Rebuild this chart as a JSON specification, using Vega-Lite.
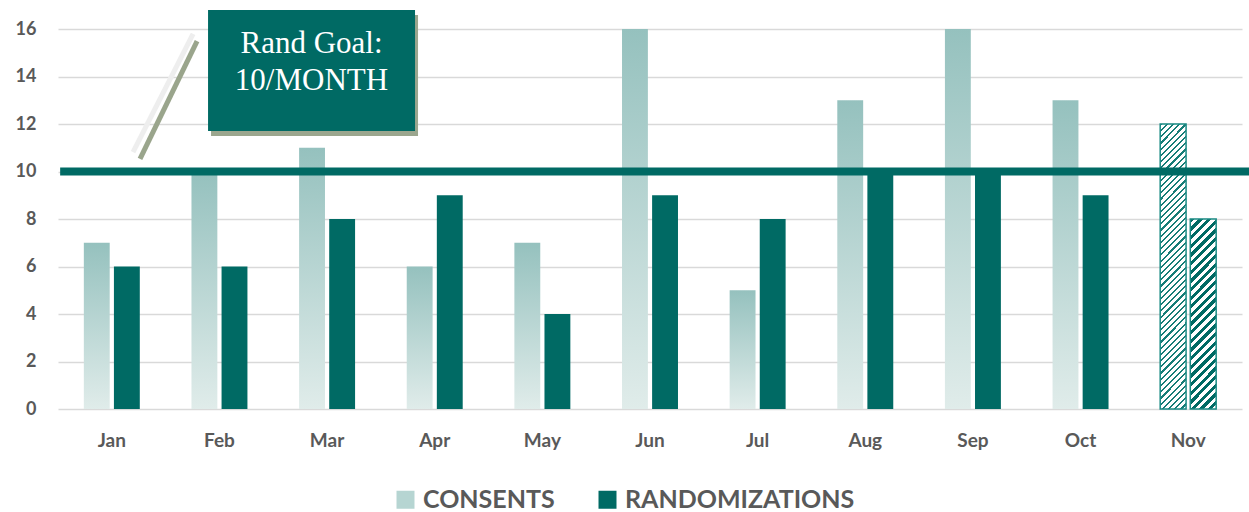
{
  "$schema": "https://vega.github.io/schema/vega-lite/v6.json",
  "width": 1184,
  "height": 380,
  "autosize": "none",
  "padding": {"left": 58, "top": 29, "right": 7, "bottom": 103},
  "background": "white",
  "config": {
    "view": {"stroke": null},
    "axis": {"domain": false, "ticks": false, "labelFont": "Lato", "labelFontWeight": "bold", "labelColor": "#595959"},
    "axisX": {"labelFontSize": 19, "labelPadding": 22, "grid": false, "labelAngle": 0},
    "axisY": {"labelFontSize": 18, "labelPadding": 22, "grid": true, "gridColor": "#d9d9d9", "gridWidth": 1.5, "tickCount": 9}
  },
  "datasets": {
    "counts": [
      {"month": "Jan", "series": "CONSENTS", "value": 7},
      {"month": "Feb", "series": "CONSENTS", "value": 10},
      {"month": "Mar", "series": "CONSENTS", "value": 11},
      {"month": "Apr", "series": "CONSENTS", "value": 6},
      {"month": "May", "series": "CONSENTS", "value": 7},
      {"month": "Jun", "series": "CONSENTS", "value": 16},
      {"month": "Jul", "series": "CONSENTS", "value": 5},
      {"month": "Aug", "series": "CONSENTS", "value": 13},
      {"month": "Sep", "series": "CONSENTS", "value": 16},
      {"month": "Oct", "series": "CONSENTS", "value": 13},
      {"month": "Nov", "series": "CONSENTS", "value": 12},
      {"month": "Jan", "series": "RANDOMIZATIONS", "value": 6},
      {"month": "Feb", "series": "RANDOMIZATIONS", "value": 6},
      {"month": "Mar", "series": "RANDOMIZATIONS", "value": 8},
      {"month": "Apr", "series": "RANDOMIZATIONS", "value": 9},
      {"month": "May", "series": "RANDOMIZATIONS", "value": 4},
      {"month": "Jun", "series": "RANDOMIZATIONS", "value": 9},
      {"month": "Jul", "series": "RANDOMIZATIONS", "value": 8},
      {"month": "Aug", "series": "RANDOMIZATIONS", "value": 10},
      {"month": "Sep", "series": "RANDOMIZATIONS", "value": 10},
      {"month": "Oct", "series": "RANDOMIZATIONS", "value": 9},
      {"month": "Nov", "series": "RANDOMIZATIONS", "value": 8}
    ]
  },
  "layer": [
    {
      "data": {"name": "counts"},
      "encoding": {
        "x": {"field": "month", "type": "nominal", "sort": ["Jan","Feb","Mar","Apr","May","Jun","Jul","Aug","Sep","Oct","Nov"], "scale": {"paddingInner": 0.48, "paddingOuter": 0.24}, "title": null},
        "xOffset": {"field": "series", "type": "nominal", "sort": ["CONSENTS", "RANDOMIZATIONS"], "scale": {"paddingInner": 0.14}},
        "y": {"field": "value", "type": "quantitative", "scale": {"domain": [0, 16], "nice": false}, "title": null, "axis": {"values": [0,2,4,6,8,10,12,14,16]}}
      },
      "layer": [
        {
          "transform": [{"filter": "datum.month !== 'Nov' && datum.series === 'RANDOMIZATIONS'"}],
          "mark": {"type": "bar"},
          "encoding": {
            "color": {
              "field": "series", "type": "nominal",
              "scale": {"domain": ["CONSENTS", "RANDOMIZATIONS"], "range": ["#b6d5d2", "#006a64"]},
              "legend": {"orient": "none", "legendX": 335, "legendY": 458, "direction": "horizontal", "title": null, "symbolType": "square", "symbolSize": 324, "symbolStrokeWidth": 0, "labelFontSize": 25, "labelFont": "Lato", "labelFontWeight": "bold", "labelColor": "#595959", "labelOffset": 5, "labelLimit": 500, "columnPadding": 40}
            }
          }
        },
        {
          "transform": [{"filter": "datum.month !== 'Nov' && datum.series === 'CONSENTS'"}],
          "mark": {"type": "bar", "fill": {"gradient": "linear", "x1": 0, "y1": 0, "x2": 0, "y2": 1, "stops": [{"offset": 0, "color": "#95c1be"}, {"offset": 1, "color": "#e0ecea"}]}}
        },
        {
          "transform": [{"filter": "datum.month === 'Nov' && datum.series === 'CONSENTS'"}],
          "mark": {"type": "bar", "stroke": "#1a8a84", "strokeWidth": 1.5, "fill": {"gradient": "linear", "x1": 0, "y1": 0, "x2": 0.0987, "y2": 1.0822, "stops": [
            {"offset":0,"color":"#177d77"},{"offset":0.007,"color":"#177d77"},{"offset":0.007,"color":"#fff"},{"offset":0.02,"color":"#fff"},
            {"offset":0.02,"color":"#177d77"},{"offset":0.027,"color":"#177d77"},{"offset":0.027,"color":"#fff"},{"offset":0.04,"color":"#fff"},
            {"offset":0.04,"color":"#177d77"},{"offset":0.047,"color":"#177d77"},{"offset":0.047,"color":"#fff"},{"offset":0.06,"color":"#fff"},
            {"offset":0.06,"color":"#177d77"},{"offset":0.067,"color":"#177d77"},{"offset":0.067,"color":"#fff"},{"offset":0.08,"color":"#fff"},
            {"offset":0.08,"color":"#177d77"},{"offset":0.087,"color":"#177d77"},{"offset":0.087,"color":"#fff"},{"offset":0.1,"color":"#fff"},
            {"offset":0.1,"color":"#177d77"},{"offset":0.107,"color":"#177d77"},{"offset":0.107,"color":"#fff"},{"offset":0.12,"color":"#fff"},
            {"offset":0.12,"color":"#177d77"},{"offset":0.127,"color":"#177d77"},{"offset":0.127,"color":"#fff"},{"offset":0.14,"color":"#fff"},
            {"offset":0.14,"color":"#177d77"},{"offset":0.147,"color":"#177d77"},{"offset":0.147,"color":"#fff"},{"offset":0.16,"color":"#fff"},
            {"offset":0.16,"color":"#177d77"},{"offset":0.167,"color":"#177d77"},{"offset":0.167,"color":"#fff"},{"offset":0.18,"color":"#fff"},
            {"offset":0.18,"color":"#177d77"},{"offset":0.187,"color":"#177d77"},{"offset":0.187,"color":"#fff"},{"offset":0.2,"color":"#fff"},
            {"offset":0.2,"color":"#177d77"},{"offset":0.207,"color":"#177d77"},{"offset":0.207,"color":"#fff"},{"offset":0.22,"color":"#fff"},
            {"offset":0.22,"color":"#177d77"},{"offset":0.227,"color":"#177d77"},{"offset":0.227,"color":"#fff"},{"offset":0.24,"color":"#fff"},
            {"offset":0.24,"color":"#177d77"},{"offset":0.247,"color":"#177d77"},{"offset":0.247,"color":"#fff"},{"offset":0.26,"color":"#fff"},
            {"offset":0.26,"color":"#177d77"},{"offset":0.267,"color":"#177d77"},{"offset":0.267,"color":"#fff"},{"offset":0.28,"color":"#fff"},
            {"offset":0.28,"color":"#177d77"},{"offset":0.287,"color":"#177d77"},{"offset":0.287,"color":"#fff"},{"offset":0.3,"color":"#fff"},
            {"offset":0.3,"color":"#177d77"},{"offset":0.307,"color":"#177d77"},{"offset":0.307,"color":"#fff"},{"offset":0.32,"color":"#fff"},
            {"offset":0.32,"color":"#177d77"},{"offset":0.327,"color":"#177d77"},{"offset":0.327,"color":"#fff"},{"offset":0.34,"color":"#fff"},
            {"offset":0.34,"color":"#177d77"},{"offset":0.347,"color":"#177d77"},{"offset":0.347,"color":"#fff"},{"offset":0.36,"color":"#fff"},
            {"offset":0.36,"color":"#177d77"},{"offset":0.367,"color":"#177d77"},{"offset":0.367,"color":"#fff"},{"offset":0.38,"color":"#fff"},
            {"offset":0.38,"color":"#177d77"},{"offset":0.387,"color":"#177d77"},{"offset":0.387,"color":"#fff"},{"offset":0.4,"color":"#fff"},
            {"offset":0.4,"color":"#177d77"},{"offset":0.407,"color":"#177d77"},{"offset":0.407,"color":"#fff"},{"offset":0.42,"color":"#fff"},
            {"offset":0.42,"color":"#177d77"},{"offset":0.427,"color":"#177d77"},{"offset":0.427,"color":"#fff"},{"offset":0.44,"color":"#fff"},
            {"offset":0.44,"color":"#177d77"},{"offset":0.447,"color":"#177d77"},{"offset":0.447,"color":"#fff"},{"offset":0.46,"color":"#fff"},
            {"offset":0.46,"color":"#177d77"},{"offset":0.467,"color":"#177d77"},{"offset":0.467,"color":"#fff"},{"offset":0.48,"color":"#fff"},
            {"offset":0.48,"color":"#177d77"},{"offset":0.487,"color":"#177d77"},{"offset":0.487,"color":"#fff"},{"offset":0.5,"color":"#fff"},
            {"offset":0.5,"color":"#177d77"},{"offset":0.507,"color":"#177d77"},{"offset":0.507,"color":"#fff"},{"offset":0.52,"color":"#fff"},
            {"offset":0.52,"color":"#177d77"},{"offset":0.527,"color":"#177d77"},{"offset":0.527,"color":"#fff"},{"offset":0.54,"color":"#fff"},
            {"offset":0.54,"color":"#177d77"},{"offset":0.547,"color":"#177d77"},{"offset":0.547,"color":"#fff"},{"offset":0.56,"color":"#fff"},
            {"offset":0.56,"color":"#177d77"},{"offset":0.567,"color":"#177d77"},{"offset":0.567,"color":"#fff"},{"offset":0.58,"color":"#fff"},
            {"offset":0.58,"color":"#177d77"},{"offset":0.587,"color":"#177d77"},{"offset":0.587,"color":"#fff"},{"offset":0.6,"color":"#fff"},
            {"offset":0.6,"color":"#177d77"},{"offset":0.607,"color":"#177d77"},{"offset":0.607,"color":"#fff"},{"offset":0.62,"color":"#fff"},
            {"offset":0.62,"color":"#177d77"},{"offset":0.627,"color":"#177d77"},{"offset":0.627,"color":"#fff"},{"offset":0.64,"color":"#fff"},
            {"offset":0.64,"color":"#177d77"},{"offset":0.647,"color":"#177d77"},{"offset":0.647,"color":"#fff"},{"offset":0.66,"color":"#fff"},
            {"offset":0.66,"color":"#177d77"},{"offset":0.667,"color":"#177d77"},{"offset":0.667,"color":"#fff"},{"offset":0.68,"color":"#fff"},
            {"offset":0.68,"color":"#177d77"},{"offset":0.687,"color":"#177d77"},{"offset":0.687,"color":"#fff"},{"offset":0.7,"color":"#fff"},
            {"offset":0.7,"color":"#177d77"},{"offset":0.707,"color":"#177d77"},{"offset":0.707,"color":"#fff"},{"offset":0.72,"color":"#fff"},
            {"offset":0.72,"color":"#177d77"},{"offset":0.727,"color":"#177d77"},{"offset":0.727,"color":"#fff"},{"offset":0.74,"color":"#fff"},
            {"offset":0.74,"color":"#177d77"},{"offset":0.747,"color":"#177d77"},{"offset":0.747,"color":"#fff"},{"offset":0.76,"color":"#fff"},
            {"offset":0.76,"color":"#177d77"},{"offset":0.767,"color":"#177d77"},{"offset":0.767,"color":"#fff"},{"offset":0.78,"color":"#fff"},
            {"offset":0.78,"color":"#177d77"},{"offset":0.787,"color":"#177d77"},{"offset":0.787,"color":"#fff"},{"offset":0.8,"color":"#fff"},
            {"offset":0.8,"color":"#177d77"},{"offset":0.807,"color":"#177d77"},{"offset":0.807,"color":"#fff"},{"offset":0.82,"color":"#fff"},
            {"offset":0.82,"color":"#177d77"},{"offset":0.827,"color":"#177d77"},{"offset":0.827,"color":"#fff"},{"offset":0.84,"color":"#fff"},
            {"offset":0.84,"color":"#177d77"},{"offset":0.847,"color":"#177d77"},{"offset":0.847,"color":"#fff"},{"offset":0.86,"color":"#fff"},
            {"offset":0.86,"color":"#177d77"},{"offset":0.867,"color":"#177d77"},{"offset":0.867,"color":"#fff"},{"offset":0.88,"color":"#fff"},
            {"offset":0.88,"color":"#177d77"},{"offset":0.887,"color":"#177d77"},{"offset":0.887,"color":"#fff"},{"offset":0.9,"color":"#fff"},
            {"offset":0.9,"color":"#177d77"},{"offset":0.907,"color":"#177d77"},{"offset":0.907,"color":"#fff"},{"offset":0.92,"color":"#fff"},
            {"offset":0.92,"color":"#177d77"},{"offset":0.927,"color":"#177d77"},{"offset":0.927,"color":"#fff"},{"offset":0.94,"color":"#fff"},
            {"offset":0.94,"color":"#177d77"},{"offset":0.947,"color":"#177d77"},{"offset":0.947,"color":"#fff"},{"offset":0.96,"color":"#fff"},
            {"offset":0.96,"color":"#177d77"},{"offset":0.967,"color":"#177d77"},{"offset":0.967,"color":"#fff"},{"offset":0.98,"color":"#fff"},
            {"offset":0.98,"color":"#177d77"},{"offset":0.987,"color":"#177d77"},{"offset":0.987,"color":"#fff"},{"offset":1,"color":"#fff"}
          ]}}
        },
        {
          "transform": [{"filter": "datum.month === 'Nov' && datum.series === 'RANDOMIZATIONS'"}],
          "mark": {"type": "bar", "stroke": "#1a8a84", "strokeWidth": 1.5, "fill": {"gradient": "linear", "x1": 0, "y1": 0, "x2": 0.1527, "y2": 1.1159, "stops": [
            {"offset":0,"color":"#006a64"},{"offset":0.02,"color":"#006a64"},{"offset":0.02,"color":"#fff"},{"offset":0.04,"color":"#fff"},
            {"offset":0.04,"color":"#006a64"},{"offset":0.06,"color":"#006a64"},{"offset":0.06,"color":"#fff"},{"offset":0.08,"color":"#fff"},
            {"offset":0.08,"color":"#006a64"},{"offset":0.1,"color":"#006a64"},{"offset":0.1,"color":"#fff"},{"offset":0.12,"color":"#fff"},
            {"offset":0.12,"color":"#006a64"},{"offset":0.14,"color":"#006a64"},{"offset":0.14,"color":"#fff"},{"offset":0.16,"color":"#fff"},
            {"offset":0.16,"color":"#006a64"},{"offset":0.18,"color":"#006a64"},{"offset":0.18,"color":"#fff"},{"offset":0.2,"color":"#fff"},
            {"offset":0.2,"color":"#006a64"},{"offset":0.22,"color":"#006a64"},{"offset":0.22,"color":"#fff"},{"offset":0.24,"color":"#fff"},
            {"offset":0.24,"color":"#006a64"},{"offset":0.26,"color":"#006a64"},{"offset":0.26,"color":"#fff"},{"offset":0.28,"color":"#fff"},
            {"offset":0.28,"color":"#006a64"},{"offset":0.3,"color":"#006a64"},{"offset":0.3,"color":"#fff"},{"offset":0.32,"color":"#fff"},
            {"offset":0.32,"color":"#006a64"},{"offset":0.34,"color":"#006a64"},{"offset":0.34,"color":"#fff"},{"offset":0.36,"color":"#fff"},
            {"offset":0.36,"color":"#006a64"},{"offset":0.38,"color":"#006a64"},{"offset":0.38,"color":"#fff"},{"offset":0.4,"color":"#fff"},
            {"offset":0.4,"color":"#006a64"},{"offset":0.42,"color":"#006a64"},{"offset":0.42,"color":"#fff"},{"offset":0.44,"color":"#fff"},
            {"offset":0.44,"color":"#006a64"},{"offset":0.46,"color":"#006a64"},{"offset":0.46,"color":"#fff"},{"offset":0.48,"color":"#fff"},
            {"offset":0.48,"color":"#006a64"},{"offset":0.5,"color":"#006a64"},{"offset":0.5,"color":"#fff"},{"offset":0.52,"color":"#fff"},
            {"offset":0.52,"color":"#006a64"},{"offset":0.54,"color":"#006a64"},{"offset":0.54,"color":"#fff"},{"offset":0.56,"color":"#fff"},
            {"offset":0.56,"color":"#006a64"},{"offset":0.58,"color":"#006a64"},{"offset":0.58,"color":"#fff"},{"offset":0.6,"color":"#fff"},
            {"offset":0.6,"color":"#006a64"},{"offset":0.62,"color":"#006a64"},{"offset":0.62,"color":"#fff"},{"offset":0.64,"color":"#fff"},
            {"offset":0.64,"color":"#006a64"},{"offset":0.66,"color":"#006a64"},{"offset":0.66,"color":"#fff"},{"offset":0.68,"color":"#fff"},
            {"offset":0.68,"color":"#006a64"},{"offset":0.7,"color":"#006a64"},{"offset":0.7,"color":"#fff"},{"offset":0.72,"color":"#fff"},
            {"offset":0.72,"color":"#006a64"},{"offset":0.74,"color":"#006a64"},{"offset":0.74,"color":"#fff"},{"offset":0.76,"color":"#fff"},
            {"offset":0.76,"color":"#006a64"},{"offset":0.78,"color":"#006a64"},{"offset":0.78,"color":"#fff"},{"offset":0.8,"color":"#fff"},
            {"offset":0.8,"color":"#006a64"},{"offset":0.82,"color":"#006a64"},{"offset":0.82,"color":"#fff"},{"offset":0.84,"color":"#fff"},
            {"offset":0.84,"color":"#006a64"},{"offset":0.86,"color":"#006a64"},{"offset":0.86,"color":"#fff"},{"offset":0.88,"color":"#fff"},
            {"offset":0.88,"color":"#006a64"},{"offset":0.9,"color":"#006a64"},{"offset":0.9,"color":"#fff"},{"offset":0.92,"color":"#fff"},
            {"offset":0.92,"color":"#006a64"},{"offset":0.94,"color":"#006a64"},{"offset":0.94,"color":"#fff"},{"offset":0.96,"color":"#fff"},
            {"offset":0.96,"color":"#006a64"},{"offset":0.98,"color":"#006a64"},{"offset":0.98,"color":"#fff"},{"offset":1,"color":"#fff"}
          ]}}
        }
      ]
    },
    {
      "layer": [
        {
          "data": {"values": [{"from": 0.02, "to": 11.07, "goal": 10}]},
          "mark": {"type": "rule", "color": "#006a64", "strokeWidth": 8},
          "encoding": {
            "x": {"field": "from", "type": "quantitative", "scale": {"domain": [0, 11], "nice": false, "zero": false}, "axis": null},
            "x2": {"field": "to"},
            "y": {"field": "goal", "type": "quantitative", "title": null, "axis": {"values": [0,2,4,6,8,10,12,14,16]}}
          }
        },
        {
          "data": {"values": [{"x": 0.762, "y": 10.53, "x2": 1.292, "y2": 15.49}]},
          "mark": {"type": "rule", "color": "#9aa58c", "strokeWidth": 5},
          "encoding": {
            "x": {"field": "x", "type": "quantitative", "axis": null},
            "x2": {"field": "x2"},
            "y": {"field": "y", "type": "quantitative", "title": null, "axis": {"values": [0,2,4,6,8,10,12,14,16]}},
            "y2": {"field": "y2"}
          }
        },
        {
          "data": {"values": [{"x": 0.697, "y": 10.82, "x2": 1.255, "y2": 15.79}]},
          "mark": {"type": "rule", "color": "#eeeeee", "strokeWidth": 5},
          "encoding": {
            "x": {"field": "x", "type": "quantitative", "axis": null},
            "x2": {"field": "x2"},
            "y": {"field": "y", "type": "quantitative", "title": null, "axis": {"values": [0,2,4,6,8,10,12,14,16]}},
            "y2": {"field": "y2"}
          }
        },
        {
          "data": {"values": [{"x": 1.394, "x2": 3.317, "y": 16.8, "y2": 11.71}]},
          "layer": [
            {"mark": {"type": "rect", "color": "#9ba68e", "xOffset": 3, "x2Offset": 3, "yOffset": 5, "y2Offset": 5}},
            {"mark": {"type": "rect", "color": "#006a64"}}
          ],
          "encoding": {
            "x": {"field": "x", "type": "quantitative", "axis": null},
            "x2": {"field": "x2"},
            "y": {"field": "y", "type": "quantitative", "title": null, "axis": {"values": [0,2,4,6,8,10,12,14,16]}},
            "y2": {"field": "y2"}
          }
        },
        {
          "data": {"values": [{"x": 2.355, "y": 14.99, "label": "Rand Goal:"}, {"x": 2.355, "y": 13.43, "label": "10/MONTH"}]},
          "mark": {"type": "text", "font": "Liberation Serif", "fontSize": 31, "color": "#ffffff", "align": "center", "baseline": "alphabetic"},
          "encoding": {
            "x": {"field": "x", "type": "quantitative", "axis": null},
            "y": {"field": "y", "type": "quantitative", "title": null, "axis": {"values": [0,2,4,6,8,10,12,14,16]}},
            "text": {"field": "label"}
          }
        }
      ]
    }
  ],
  "resolve": {"scale": {"x": "independent"}}
}
